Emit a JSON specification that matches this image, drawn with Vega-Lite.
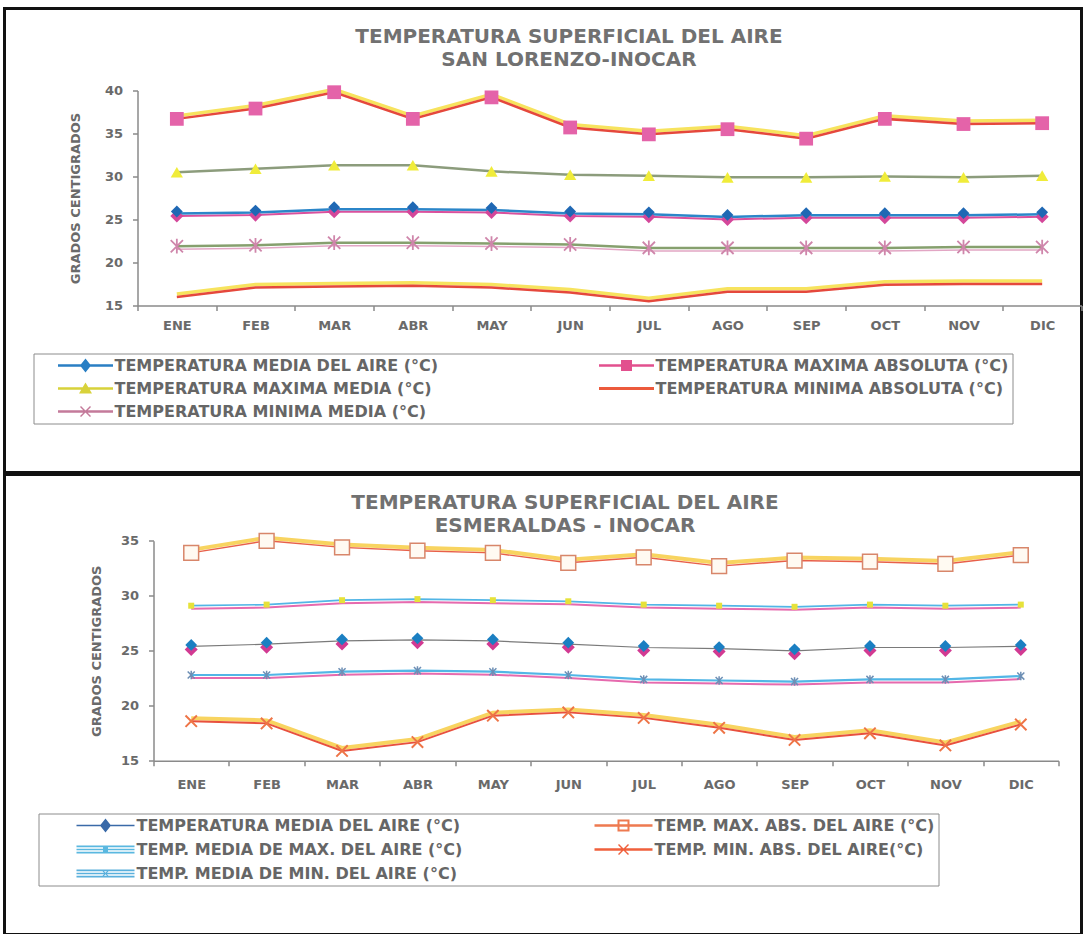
{
  "$schema": "https://vega.github.io/schema/vega-lite/v6.json",
  "background": "white",
  "padding": {"left": 2.5, "top": 6.5, "right": 0, "bottom": 0},
  "spacing": -4.5,
  "config": {
    "view": {"stroke": "#111111", "strokeWidth": 3},
    "font": "DejaVu Sans",
    "axis": {
      "labelFont": "DejaVu Sans", "labelFontSize": 13, "labelFontWeight": "bold", "labelColor": "#6a6a6a",
      "titleFont": "DejaVu Sans", "titleFontSize": 13, "titleFontWeight": "bold", "titleColor": "#6a6a6a",
      "domainColor": "#8a8a8a", "domainWidth": 1.5, "tickColor": "#8a8a8a", "tickWidth": 1.5, "tickSize": 5,
      "grid": false, "labelOverlap": false
    },
    "title": {"font": "DejaVu Sans", "fontSize": 20, "fontWeight": "bold", "color": "#717171", "lineHeight": 23}
  },
  "datasets": {
    "sl": [
      {"serie": "TEMPERATURA MEDIA DEL AIRE (°C)", "mes": "ENE", "valor": 25.7},
      {"serie": "TEMPERATURA MEDIA DEL AIRE (°C)", "mes": "FEB", "valor": 25.8},
      {"serie": "TEMPERATURA MEDIA DEL AIRE (°C)", "mes": "MAR", "valor": 26.2},
      {"serie": "TEMPERATURA MEDIA DEL AIRE (°C)", "mes": "ABR", "valor": 26.2},
      {"serie": "TEMPERATURA MEDIA DEL AIRE (°C)", "mes": "MAY", "valor": 26.1},
      {"serie": "TEMPERATURA MEDIA DEL AIRE (°C)", "mes": "JUN", "valor": 25.7},
      {"serie": "TEMPERATURA MEDIA DEL AIRE (°C)", "mes": "JUL", "valor": 25.6},
      {"serie": "TEMPERATURA MEDIA DEL AIRE (°C)", "mes": "AGO", "valor": 25.3},
      {"serie": "TEMPERATURA MEDIA DEL AIRE (°C)", "mes": "SEP", "valor": 25.5},
      {"serie": "TEMPERATURA MEDIA DEL AIRE (°C)", "mes": "OCT", "valor": 25.5},
      {"serie": "TEMPERATURA MEDIA DEL AIRE (°C)", "mes": "NOV", "valor": 25.5},
      {"serie": "TEMPERATURA MEDIA DEL AIRE (°C)", "mes": "DIC", "valor": 25.6},
      {"serie": "TEMPERATURA MAXIMA ABSOLUTA (°C)", "mes": "ENE", "valor": 36.7},
      {"serie": "TEMPERATURA MAXIMA ABSOLUTA (°C)", "mes": "FEB", "valor": 37.9},
      {"serie": "TEMPERATURA MAXIMA ABSOLUTA (°C)", "mes": "MAR", "valor": 39.8},
      {"serie": "TEMPERATURA MAXIMA ABSOLUTA (°C)", "mes": "ABR", "valor": 36.7},
      {"serie": "TEMPERATURA MAXIMA ABSOLUTA (°C)", "mes": "MAY", "valor": 39.2},
      {"serie": "TEMPERATURA MAXIMA ABSOLUTA (°C)", "mes": "JUN", "valor": 35.7},
      {"serie": "TEMPERATURA MAXIMA ABSOLUTA (°C)", "mes": "JUL", "valor": 34.9},
      {"serie": "TEMPERATURA MAXIMA ABSOLUTA (°C)", "mes": "AGO", "valor": 35.5},
      {"serie": "TEMPERATURA MAXIMA ABSOLUTA (°C)", "mes": "SEP", "valor": 34.4},
      {"serie": "TEMPERATURA MAXIMA ABSOLUTA (°C)", "mes": "OCT", "valor": 36.7},
      {"serie": "TEMPERATURA MAXIMA ABSOLUTA (°C)", "mes": "NOV", "valor": 36.1},
      {"serie": "TEMPERATURA MAXIMA ABSOLUTA (°C)", "mes": "DIC", "valor": 36.2},
      {"serie": "TEMPERATURA MAXIMA MEDIA (°C)", "mes": "ENE", "valor": 30.5},
      {"serie": "TEMPERATURA MAXIMA MEDIA (°C)", "mes": "FEB", "valor": 30.9},
      {"serie": "TEMPERATURA MAXIMA MEDIA (°C)", "mes": "MAR", "valor": 31.3},
      {"serie": "TEMPERATURA MAXIMA MEDIA (°C)", "mes": "ABR", "valor": 31.3},
      {"serie": "TEMPERATURA MAXIMA MEDIA (°C)", "mes": "MAY", "valor": 30.6},
      {"serie": "TEMPERATURA MAXIMA MEDIA (°C)", "mes": "JUN", "valor": 30.2},
      {"serie": "TEMPERATURA MAXIMA MEDIA (°C)", "mes": "JUL", "valor": 30.1},
      {"serie": "TEMPERATURA MAXIMA MEDIA (°C)", "mes": "AGO", "valor": 29.9},
      {"serie": "TEMPERATURA MAXIMA MEDIA (°C)", "mes": "SEP", "valor": 29.9},
      {"serie": "TEMPERATURA MAXIMA MEDIA (°C)", "mes": "OCT", "valor": 30.0},
      {"serie": "TEMPERATURA MAXIMA MEDIA (°C)", "mes": "NOV", "valor": 29.9},
      {"serie": "TEMPERATURA MAXIMA MEDIA (°C)", "mes": "DIC", "valor": 30.1},
      {"serie": "TEMPERATURA MINIMA ABSOLUTA (°C)", "mes": "ENE", "valor": 16.0},
      {"serie": "TEMPERATURA MINIMA ABSOLUTA (°C)", "mes": "FEB", "valor": 17.1},
      {"serie": "TEMPERATURA MINIMA ABSOLUTA (°C)", "mes": "MAR", "valor": 17.2},
      {"serie": "TEMPERATURA MINIMA ABSOLUTA (°C)", "mes": "ABR", "valor": 17.3},
      {"serie": "TEMPERATURA MINIMA ABSOLUTA (°C)", "mes": "MAY", "valor": 17.1},
      {"serie": "TEMPERATURA MINIMA ABSOLUTA (°C)", "mes": "JUN", "valor": 16.5},
      {"serie": "TEMPERATURA MINIMA ABSOLUTA (°C)", "mes": "JUL", "valor": 15.5},
      {"serie": "TEMPERATURA MINIMA ABSOLUTA (°C)", "mes": "AGO", "valor": 16.6},
      {"serie": "TEMPERATURA MINIMA ABSOLUTA (°C)", "mes": "SEP", "valor": 16.6},
      {"serie": "TEMPERATURA MINIMA ABSOLUTA (°C)", "mes": "OCT", "valor": 17.4},
      {"serie": "TEMPERATURA MINIMA ABSOLUTA (°C)", "mes": "NOV", "valor": 17.5},
      {"serie": "TEMPERATURA MINIMA ABSOLUTA (°C)", "mes": "DIC", "valor": 17.5},
      {"serie": "TEMPERATURA MINIMA MEDIA (°C)", "mes": "ENE", "valor": 21.9},
      {"serie": "TEMPERATURA MINIMA MEDIA (°C)", "mes": "FEB", "valor": 22.0},
      {"serie": "TEMPERATURA MINIMA MEDIA (°C)", "mes": "MAR", "valor": 22.3},
      {"serie": "TEMPERATURA MINIMA MEDIA (°C)", "mes": "ABR", "valor": 22.3},
      {"serie": "TEMPERATURA MINIMA MEDIA (°C)", "mes": "MAY", "valor": 22.2},
      {"serie": "TEMPERATURA MINIMA MEDIA (°C)", "mes": "JUN", "valor": 22.1},
      {"serie": "TEMPERATURA MINIMA MEDIA (°C)", "mes": "JUL", "valor": 21.7},
      {"serie": "TEMPERATURA MINIMA MEDIA (°C)", "mes": "AGO", "valor": 21.7},
      {"serie": "TEMPERATURA MINIMA MEDIA (°C)", "mes": "SEP", "valor": 21.7},
      {"serie": "TEMPERATURA MINIMA MEDIA (°C)", "mes": "OCT", "valor": 21.7},
      {"serie": "TEMPERATURA MINIMA MEDIA (°C)", "mes": "NOV", "valor": 21.8},
      {"serie": "TEMPERATURA MINIMA MEDIA (°C)", "mes": "DIC", "valor": 21.8}
    ],
    "es": [
      {"serie": "TEMPERATURA MEDIA DEL AIRE (°C)", "mes": "ENE", "valor": 25.4},
      {"serie": "TEMPERATURA MEDIA DEL AIRE (°C)", "mes": "FEB", "valor": 25.6},
      {"serie": "TEMPERATURA MEDIA DEL AIRE (°C)", "mes": "MAR", "valor": 25.9},
      {"serie": "TEMPERATURA MEDIA DEL AIRE (°C)", "mes": "ABR", "valor": 26.0},
      {"serie": "TEMPERATURA MEDIA DEL AIRE (°C)", "mes": "MAY", "valor": 25.9},
      {"serie": "TEMPERATURA MEDIA DEL AIRE (°C)", "mes": "JUN", "valor": 25.6},
      {"serie": "TEMPERATURA MEDIA DEL AIRE (°C)", "mes": "JUL", "valor": 25.3},
      {"serie": "TEMPERATURA MEDIA DEL AIRE (°C)", "mes": "AGO", "valor": 25.2},
      {"serie": "TEMPERATURA MEDIA DEL AIRE (°C)", "mes": "SEP", "valor": 25.0},
      {"serie": "TEMPERATURA MEDIA DEL AIRE (°C)", "mes": "OCT", "valor": 25.3},
      {"serie": "TEMPERATURA MEDIA DEL AIRE (°C)", "mes": "NOV", "valor": 25.3},
      {"serie": "TEMPERATURA MEDIA DEL AIRE (°C)", "mes": "DIC", "valor": 25.4},
      {"serie": "TEMP. MAX. ABS. DEL AIRE (°C)", "mes": "ENE", "valor": 33.9},
      {"serie": "TEMP. MAX. ABS. DEL AIRE (°C)", "mes": "FEB", "valor": 35.0},
      {"serie": "TEMP. MAX. ABS. DEL AIRE (°C)", "mes": "MAR", "valor": 34.4},
      {"serie": "TEMP. MAX. ABS. DEL AIRE (°C)", "mes": "ABR", "valor": 34.1},
      {"serie": "TEMP. MAX. ABS. DEL AIRE (°C)", "mes": "MAY", "valor": 33.9},
      {"serie": "TEMP. MAX. ABS. DEL AIRE (°C)", "mes": "JUN", "valor": 33.0},
      {"serie": "TEMP. MAX. ABS. DEL AIRE (°C)", "mes": "JUL", "valor": 33.5},
      {"serie": "TEMP. MAX. ABS. DEL AIRE (°C)", "mes": "AGO", "valor": 32.7},
      {"serie": "TEMP. MAX. ABS. DEL AIRE (°C)", "mes": "SEP", "valor": 33.2},
      {"serie": "TEMP. MAX. ABS. DEL AIRE (°C)", "mes": "OCT", "valor": 33.1},
      {"serie": "TEMP. MAX. ABS. DEL AIRE (°C)", "mes": "NOV", "valor": 32.9},
      {"serie": "TEMP. MAX. ABS. DEL AIRE (°C)", "mes": "DIC", "valor": 33.7},
      {"serie": "TEMP. MEDIA DE MAX. DEL AIRE (°C)", "mes": "ENE", "valor": 29.1},
      {"serie": "TEMP. MEDIA DE MAX. DEL AIRE (°C)", "mes": "FEB", "valor": 29.2},
      {"serie": "TEMP. MEDIA DE MAX. DEL AIRE (°C)", "mes": "MAR", "valor": 29.6},
      {"serie": "TEMP. MEDIA DE MAX. DEL AIRE (°C)", "mes": "ABR", "valor": 29.7},
      {"serie": "TEMP. MEDIA DE MAX. DEL AIRE (°C)", "mes": "MAY", "valor": 29.6},
      {"serie": "TEMP. MEDIA DE MAX. DEL AIRE (°C)", "mes": "JUN", "valor": 29.5},
      {"serie": "TEMP. MEDIA DE MAX. DEL AIRE (°C)", "mes": "JUL", "valor": 29.2},
      {"serie": "TEMP. MEDIA DE MAX. DEL AIRE (°C)", "mes": "AGO", "valor": 29.1},
      {"serie": "TEMP. MEDIA DE MAX. DEL AIRE (°C)", "mes": "SEP", "valor": 29.0},
      {"serie": "TEMP. MEDIA DE MAX. DEL AIRE (°C)", "mes": "OCT", "valor": 29.2},
      {"serie": "TEMP. MEDIA DE MAX. DEL AIRE (°C)", "mes": "NOV", "valor": 29.1},
      {"serie": "TEMP. MEDIA DE MAX. DEL AIRE (°C)", "mes": "DIC", "valor": 29.2},
      {"serie": "TEMP. MIN. ABS. DEL AIRE(°C)", "mes": "ENE", "valor": 18.6},
      {"serie": "TEMP. MIN. ABS. DEL AIRE(°C)", "mes": "FEB", "valor": 18.4},
      {"serie": "TEMP. MIN. ABS. DEL AIRE(°C)", "mes": "MAR", "valor": 15.9},
      {"serie": "TEMP. MIN. ABS. DEL AIRE(°C)", "mes": "ABR", "valor": 16.7},
      {"serie": "TEMP. MIN. ABS. DEL AIRE(°C)", "mes": "MAY", "valor": 19.1},
      {"serie": "TEMP. MIN. ABS. DEL AIRE(°C)", "mes": "JUN", "valor": 19.4},
      {"serie": "TEMP. MIN. ABS. DEL AIRE(°C)", "mes": "JUL", "valor": 18.9},
      {"serie": "TEMP. MIN. ABS. DEL AIRE(°C)", "mes": "AGO", "valor": 18.0},
      {"serie": "TEMP. MIN. ABS. DEL AIRE(°C)", "mes": "SEP", "valor": 16.9},
      {"serie": "TEMP. MIN. ABS. DEL AIRE(°C)", "mes": "OCT", "valor": 17.5},
      {"serie": "TEMP. MIN. ABS. DEL AIRE(°C)", "mes": "NOV", "valor": 16.4},
      {"serie": "TEMP. MIN. ABS. DEL AIRE(°C)", "mes": "DIC", "valor": 18.3},
      {"serie": "TEMP. MEDIA DE MIN. DEL AIRE (°C)", "mes": "ENE", "valor": 22.8},
      {"serie": "TEMP. MEDIA DE MIN. DEL AIRE (°C)", "mes": "FEB", "valor": 22.8},
      {"serie": "TEMP. MEDIA DE MIN. DEL AIRE (°C)", "mes": "MAR", "valor": 23.1},
      {"serie": "TEMP. MEDIA DE MIN. DEL AIRE (°C)", "mes": "ABR", "valor": 23.2},
      {"serie": "TEMP. MEDIA DE MIN. DEL AIRE (°C)", "mes": "MAY", "valor": 23.1},
      {"serie": "TEMP. MEDIA DE MIN. DEL AIRE (°C)", "mes": "JUN", "valor": 22.8},
      {"serie": "TEMP. MEDIA DE MIN. DEL AIRE (°C)", "mes": "JUL", "valor": 22.4},
      {"serie": "TEMP. MEDIA DE MIN. DEL AIRE (°C)", "mes": "AGO", "valor": 22.3},
      {"serie": "TEMP. MEDIA DE MIN. DEL AIRE (°C)", "mes": "SEP", "valor": 22.2},
      {"serie": "TEMP. MEDIA DE MIN. DEL AIRE (°C)", "mes": "OCT", "valor": 22.4},
      {"serie": "TEMP. MEDIA DE MIN. DEL AIRE (°C)", "mes": "NOV", "valor": 22.4},
      {"serie": "TEMP. MEDIA DE MIN. DEL AIRE (°C)", "mes": "DIC", "valor": 22.7}
    ]
  },
  "vconcat": [
    {
      "width": 1077,
      "height": 464,
      "data": {"name": "sl"},
      "title": {"text": ["TEMPERATURA SUPERFICIAL DEL AIRE", "SAN LORENZO-INOCAR"], "anchor": "middle", "frame": "group", "baseline": "top", "offset": 0, "dy": 61, "dx": 26},
      "encoding": {
        "x": {
          "field": "mes", "type": "ordinal", "bandPosition": 0.5,
          "sort": ["ENE", "FEB", "MAR", "ABR", "MAY", "JUN", "JUL", "AGO", "SEP", "OCT", "NOV", "DIC"],
          "scale": {"type": "band", "range": [133, 1077], "paddingInner": 0, "paddingOuter": 0},
          "axis": {"title": null, "orient": "bottom", "offset": -167, "labelAngle": 0, "tickBand": "extent", "labelPadding": 9}
        },
        "y": {
          "field": "valor", "type": "quantitative",
          "scale": {"domain": [15, 40], "range": [297, 82], "zero": false, "nice": false},
          "axis": {"title": "GRADOS CENTIGRADOS", "offset": -133, "values": [15, 20, 25, 30, 35, 40], "labelPadding": 10, "titlePadding": 22}
        }
      },
      "layer": [
        {
          "transform": [{"filter": {"field": "serie", "oneOf": ["TEMPERATURA MAXIMA ABSOLUTA (°C)", "TEMPERATURA MINIMA ABSOLUTA (°C)"]}}],
          "mark": {"type": "line", "color": "#f7e35e", "strokeWidth": 3.5, "yOffset": -3},
          "encoding": {"detail": {"field": "serie"}}
        },
        {
          "transform": [{"filter": {"field": "serie", "equal": "TEMPERATURA MEDIA DEL AIRE (°C)"}}],
          "mark": {"type": "line", "color": "#d9509d", "strokeWidth": 2, "yOffset": 2.5},
          "encoding": {}
        },
        {
          "transform": [{"filter": {"field": "serie", "equal": "TEMPERATURA MINIMA MEDIA (°C)"}}],
          "mark": {"type": "line", "color": "#e2a6c4", "strokeWidth": 1.5, "yOffset": 3},
          "encoding": {}
        },
        {
          "mark": {"type": "line", "strokeWidth": 2.5},
          "encoding": {
            "color": {
              "field": "serie", "type": "nominal", "legend": null,
              "scale": {
                "domain": ["TEMPERATURA MEDIA DEL AIRE (°C)", "TEMPERATURA MAXIMA ABSOLUTA (°C)", "TEMPERATURA MAXIMA MEDIA (°C)", "TEMPERATURA MINIMA ABSOLUTA (°C)", "TEMPERATURA MINIMA MEDIA (°C)"],
                "range": ["#2b86c9", "#e5483c", "#8c9c7c", "#e5483c", "#86a06e"]
              }
            }
          }
        },
        {
          "transform": [{"filter": {"field": "serie", "equal": "TEMPERATURA MEDIA DEL AIRE (°C)"}}],
          "mark": {"type": "point", "shape": "diamond", "filled": true, "color": "#d4479a", "size": 170, "opacity": 1, "yOffset": 2.5},
          "encoding": {}
        },
        {
          "transform": [{"filter": {"field": "serie", "equal": "TEMPERATURA MEDIA DEL AIRE (°C)"}}],
          "mark": {"type": "point", "shape": "diamond", "filled": true, "color": "#1f68b4", "size": 140, "opacity": 1, "yOffset": -2},
          "encoding": {}
        },
        {
          "transform": [{"filter": {"field": "serie", "equal": "TEMPERATURA MAXIMA ABSOLUTA (°C)"}}],
          "mark": {"type": "point", "shape": "square", "filled": true, "color": "#e463a9", "size": 190, "opacity": 1},
          "encoding": {}
        },
        {
          "transform": [{"filter": {"field": "serie", "equal": "TEMPERATURA MAXIMA MEDIA (°C)"}}],
          "mark": {"type": "point", "shape": "triangle-up", "filled": true, "color": "#f0ec3a", "size": 150, "opacity": 1},
          "encoding": {}
        },
        {
          "transform": [{"filter": {"field": "serie", "equal": "TEMPERATURA MINIMA MEDIA (°C)"}}],
          "mark": {"type": "point", "shape": "M-1,-1L1,1M1,-1L-1,1M0,-1.2L0,1.2", "filled": false, "color": "#cf86ab", "strokeWidth": 1.8, "size": 150, "opacity": 1},
          "encoding": {}
        },
        {
          "mark": {"type": "point", "filled": true, "opacity": 0, "size": 100},
          "encoding": {
            "color": {
              "field": "serie", "type": "nominal",
              "scale": {
                "domain": ["TEMPERATURA MEDIA DEL AIRE (°C)", "TEMPERATURA MAXIMA ABSOLUTA (°C)", "TEMPERATURA MAXIMA MEDIA (°C)", "TEMPERATURA MINIMA ABSOLUTA (°C)", "TEMPERATURA MINIMA MEDIA (°C)"],
                "range": ["#2a7fc4", "#e2508e", "#d8d23a", "#ec5a3c", "#c47a9a"]
              },
              "legend": {
                "title": null, "orient": "none", "legendX": 29, "legendY": 345, "direction": "horizontal", "columns": 2, "gridAlign": "each",
                "symbolSize": 100, "symbolOffset": 40, "labelOffset": 21, "symbolStrokeWidth": 0, "symbolOpacity": 1,
                "labelFont": "DejaVu Sans", "labelFontSize": 16, "labelFontWeight": "bold", "labelColor": "#666666", "labelLimit": 800,
                "rowPadding": 7, "columnPadding": 140, "padding": 4, "strokeColor": "#8c8c8c", "fillColor": "#ffffff"
              }
            },
            "shape": {
              "field": "serie", "type": "nominal",
              "scale": {
                "domain": ["TEMPERATURA MEDIA DEL AIRE (°C)", "TEMPERATURA MAXIMA ABSOLUTA (°C)", "TEMPERATURA MAXIMA MEDIA (°C)", "TEMPERATURA MINIMA ABSOLUTA (°C)", "TEMPERATURA MINIMA MEDIA (°C)"],
                "range": [
                  "M-5.5,-0.25H5.5V0.25H-5.5Z M0,-1.4L1.1,0L0,1.4L-1.1,0Z",
                  "M-5.5,-0.25H5.5V0.25H-5.5Z M-1.1,-1.1H1.1V1.1H-1.1Z",
                  "M-5.5,-0.25H5.5V0.25H-5.5Z M0,-1.2L1.3,1H-1.3Z",
                  "M-5.5,-0.3H5.5V0.3H-5.5Z",
                  "M-5.5,-0.25H5.5V0.25H-5.5Z M-1.1,-0.9L-0.9,-1.1L0,-0.2L0.9,-1.1L1.1,-0.9L0.2,0L1.1,0.9L0.9,1.1L0,0.2L-0.9,1.1L-1.1,0.9L-0.2,0Z"
                ]
              },
              "legend": {
                "title": null, "orient": "none", "legendX": 29, "legendY": 345, "direction": "horizontal", "columns": 2, "gridAlign": "each",
                "symbolSize": 100, "symbolOffset": 40, "labelOffset": 21, "symbolStrokeWidth": 0, "symbolOpacity": 1,
                "labelFont": "DejaVu Sans", "labelFontSize": 16, "labelFontWeight": "bold", "labelColor": "#666666", "labelLimit": 800,
                "rowPadding": 7, "columnPadding": 140, "padding": 4, "strokeColor": "#8c8c8c", "fillColor": "#ffffff"
              }
            }
          }
        }
      ],
      "resolve": {"scale": {"color": "independent", "shape": "independent"}}
    },
    {
      "width": 1077,
      "height": 460,
      "data": {"name": "es"},
      "title": {"text": ["TEMPERATURA SUPERFICIAL DEL AIRE", "ESMERALDAS - INOCAR"], "anchor": "middle", "frame": "group", "baseline": "top", "offset": 0, "dy": 61, "dx": 22},
      "encoding": {
        "x": {
          "field": "mes", "type": "ordinal", "bandPosition": 0.5,
          "sort": ["ENE", "FEB", "MAR", "ABR", "MAY", "JUN", "JUL", "AGO", "SEP", "OCT", "NOV", "DIC"],
          "scale": {"type": "band", "range": [149, 1054], "paddingInner": 0, "paddingOuter": 0},
          "axis": {"title": null, "orient": "bottom", "offset": -173.7, "labelAngle": 0, "tickBand": "extent", "labelPadding": 13}
        },
        "y": {
          "field": "valor", "type": "quantitative",
          "scale": {"domain": [15, 35], "range": [286.3, 66.3], "zero": false, "nice": false},
          "axis": {"title": "GRADOS CENTIGRADOS", "offset": -149, "values": [15, 20, 25, 30, 35], "labelPadding": 10, "titlePadding": 17}
        }
      },
      "layer": [
        {
          "transform": [{"filter": {"field": "serie", "oneOf": ["TEMP. MAX. ABS. DEL AIRE (°C)", "TEMP. MIN. ABS. DEL AIRE(°C)"]}}],
          "mark": {"type": "line", "color": "#f8d460", "strokeWidth": 4, "yOffset": -3},
          "encoding": {"detail": {"field": "serie"}}
        },
        {
          "transform": [{"filter": {"field": "serie", "oneOf": ["TEMP. MEDIA DE MAX. DEL AIRE (°C)", "TEMP. MEDIA DE MIN. DEL AIRE (°C)"]}}],
          "mark": {"type": "line", "color": "#e66aae", "strokeWidth": 2, "yOffset": 3},
          "encoding": {"detail": {"field": "serie"}}
        },
        {
          "mark": {"type": "line"},
          "encoding": {
            "color": {
              "field": "serie", "type": "nominal", "legend": null,
              "scale": {
                "domain": ["TEMPERATURA MEDIA DEL AIRE (°C)", "TEMP. MAX. ABS. DEL AIRE (°C)", "TEMP. MEDIA DE MAX. DEL AIRE (°C)", "TEMP. MIN. ABS. DEL AIRE(°C)", "TEMP. MEDIA DE MIN. DEL AIRE (°C)"],
                "range": ["#7a7a7a", "#e8604a", "#52b6e6", "#e8503e", "#52b6e6"]
              }
            },
            "strokeWidth": {
              "field": "serie", "type": "nominal", "legend": null,
              "scale": {
                "domain": ["TEMPERATURA MEDIA DEL AIRE (°C)", "TEMP. MAX. ABS. DEL AIRE (°C)", "TEMP. MEDIA DE MAX. DEL AIRE (°C)", "TEMP. MIN. ABS. DEL AIRE(°C)", "TEMP. MEDIA DE MIN. DEL AIRE (°C)"],
                "range": [1.2, 2.2, 2, 2.2, 2]
              }
            }
          }
        },
        {
          "transform": [{"filter": {"field": "serie", "equal": "TEMPERATURA MEDIA DEL AIRE (°C)"}}],
          "mark": {"type": "point", "shape": "diamond", "filled": true, "color": "#d23a92", "size": 170, "opacity": 1, "yOffset": 3},
          "encoding": {}
        },
        {
          "transform": [{"filter": {"field": "serie", "equal": "TEMPERATURA MEDIA DEL AIRE (°C)"}}],
          "mark": {"type": "point", "shape": "diamond", "filled": true, "color": "#1b7fc2", "size": 140, "opacity": 1, "yOffset": -1.5},
          "encoding": {}
        },
        {
          "transform": [{"filter": {"field": "serie", "equal": "TEMP. MAX. ABS. DEL AIRE (°C)"}}],
          "mark": {"type": "point", "shape": "square", "filled": true, "fill": "#fffaf2", "stroke": "#d8866a", "strokeWidth": 1.5, "size": 220, "opacity": 1},
          "encoding": {}
        },
        {
          "transform": [{"filter": {"field": "serie", "equal": "TEMP. MEDIA DE MAX. DEL AIRE (°C)"}}],
          "mark": {"type": "point", "shape": "square", "filled": true, "color": "#e6e23a", "size": 36, "opacity": 1},
          "encoding": {}
        },
        {
          "transform": [{"filter": {"field": "serie", "equal": "TEMP. MIN. ABS. DEL AIRE(°C)"}}],
          "mark": {"type": "point", "shape": "M-1,-1L1,1M1,-1L-1,1", "filled": false, "color": "#ee7446", "strokeWidth": 2, "size": 130, "opacity": 1},
          "encoding": {}
        },
        {
          "transform": [{"filter": {"field": "serie", "equal": "TEMP. MEDIA DE MIN. DEL AIRE (°C)"}}],
          "mark": {"type": "point", "shape": "M-1,-1L1,1M1,-1L-1,1M0,-1.2L0,1.2", "filled": false, "color": "#6d8fb5", "strokeWidth": 1.5, "size": 50, "opacity": 1},
          "encoding": {}
        },
        {
          "mark": {"type": "point", "filled": true, "opacity": 0, "size": 100},
          "encoding": {
            "color": {
              "field": "serie", "type": "nominal",
              "scale": {
                "domain": ["TEMPERATURA MEDIA DEL AIRE (°C)", "TEMP. MAX. ABS. DEL AIRE (°C)", "TEMP. MEDIA DE MAX. DEL AIRE (°C)", "TEMP. MIN. ABS. DEL AIRE(°C)", "TEMP. MEDIA DE MIN. DEL AIRE (°C)"],
                "range": ["#3a6aa8", "#ee7a50", "#5ab8e0", "#f0603c", "#5ab0dc"]
              },
              "legend": {
                "title": null, "orient": "none", "legendX": 34, "legendY": 339, "direction": "horizontal", "columns": 2, "gridAlign": "each",
                "symbolSize": 100, "symbolOffset": 55, "labelOffset": 23, "symbolStrokeWidth": 0, "symbolOpacity": 1,
                "labelFont": "DejaVu Sans", "labelFontSize": 16, "labelFontWeight": "bold", "labelColor": "#666666", "labelLimit": 800,
                "rowPadding": 8, "columnPadding": 98, "padding": 4, "strokeColor": "#8c8c8c", "fillColor": "#ffffff"
              }
            },
            "shape": {
              "field": "serie", "type": "nominal",
              "scale": {
                "domain": ["TEMPERATURA MEDIA DEL AIRE (°C)", "TEMP. MAX. ABS. DEL AIRE (°C)", "TEMP. MEDIA DE MAX. DEL AIRE (°C)", "TEMP. MIN. ABS. DEL AIRE(°C)", "TEMP. MEDIA DE MIN. DEL AIRE (°C)"],
                "range": [
                  "M-5.8,-0.15H5.8V0.15H-5.8Z M0,-1.4L1.1,0L0,1.4L-1.1,0Z",
                  "M-5.8,-0.25H5.8V0.25H-5.8Z M-1.2,-1.2H1.2V1.2H-1.2Z M-0.8,-0.8V0.8H0.8V-0.8Z",
                  "M-5.8,-0.8H5.8V-0.45H-5.8Z M-5.8,-0.15H5.8V0.15H-5.8Z M-5.8,0.45H5.8V0.8H-5.8Z M-0.5,-0.5H0.5V0.5H-0.5Z",
                  "M-5.8,-0.25H5.8V0.25H-5.8Z M-1.1,-0.9L-0.9,-1.1L0,-0.2L0.9,-1.1L1.1,-0.9L0.2,0L1.1,0.9L0.9,1.1L0,0.2L-0.9,1.1L-1.1,0.9L-0.2,0Z",
                  "M-5.8,-0.8H5.8V-0.45H-5.8Z M-5.8,-0.15H5.8V0.15H-5.8Z M-5.8,0.45H5.8V0.8H-5.8Z M-0.7,-0.55L-0.55,-0.7L0,-0.15L0.55,-0.7L0.7,-0.55L0.15,0L0.7,0.55L0.55,0.7L0,0.15L-0.55,0.7L-0.7,0.55L-0.15,0Z"
                ]
              },
              "legend": {
                "title": null, "orient": "none", "legendX": 34, "legendY": 339, "direction": "horizontal", "columns": 2, "gridAlign": "each",
                "symbolSize": 100, "symbolOffset": 55, "labelOffset": 23, "symbolStrokeWidth": 0, "symbolOpacity": 1,
                "labelFont": "DejaVu Sans", "labelFontSize": 16, "labelFontWeight": "bold", "labelColor": "#666666", "labelLimit": 800,
                "rowPadding": 8, "columnPadding": 98, "padding": 4, "strokeColor": "#8c8c8c", "fillColor": "#ffffff"
              }
            }
          }
        }
      ],
      "resolve": {"scale": {"color": "independent", "shape": "independent", "strokeWidth": "independent"}}
    }
  ]
}
